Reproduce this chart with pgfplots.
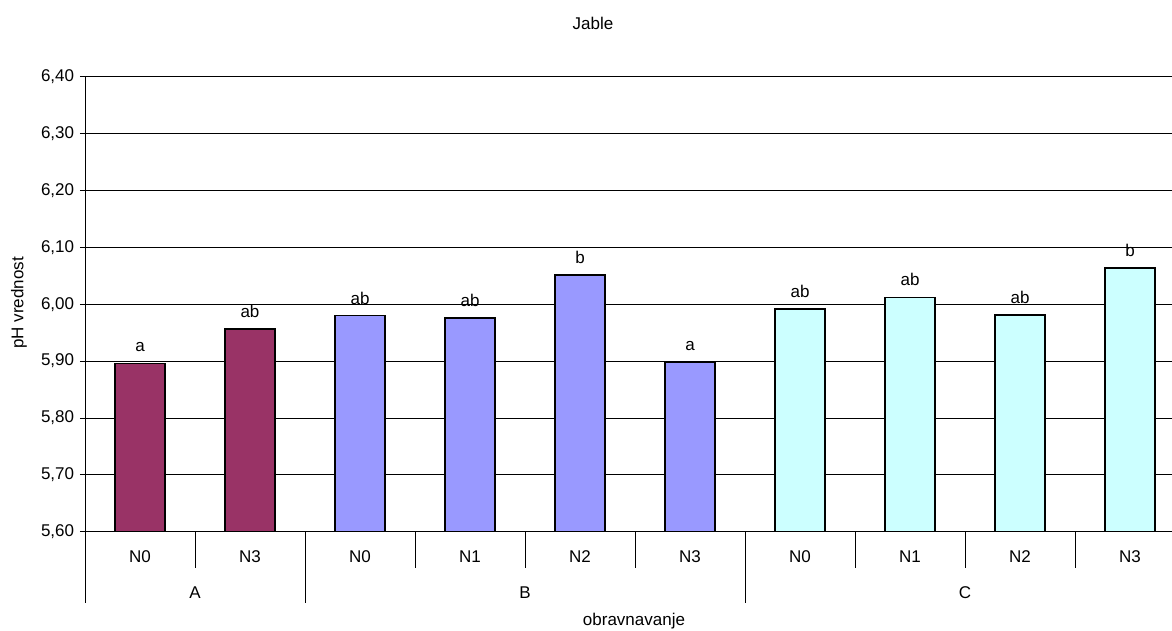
\documentclass[border=0pt]{standalone}
\usepackage{pgfplots}
\pgfplotsset{compat=1.18}
\usepackage{fontspec}
\setmainfont{Liberation Sans}
\definecolor{cA}{HTML}{993366}
\definecolor{cB}{HTML}{9999FF}
\definecolor{cC}{HTML}{CCFFFF}
\pgfplotstableread{
x y l
0 5.896 a
1 5.956 ab
}\tA
\pgfplotstableread{
x y l
2 5.980 ab
3 5.976 ab
4 6.051 b
5 5.898 a
}\tB
\pgfplotstableread{
x y l
6 5.992 ab
7 6.012 ab
8 5.981 ab
9 6.064 b
}\tC
\begin{document}
\fontsize{17}{20}\selectfont
\begin{tikzpicture}
\useasboundingbox (-85pt,531.7pt) rectangle (1087pt,-98.3pt);
\clip (-85pt,531.7pt) rectangle (1087pt,-98.3pt);
\begin{axis}[
  anchor=south west,
  scale only axis, width=1100pt, height=455pt,
  xmin=-0.5, xmax=9.5, ymin=5.6, ymax=6.4,
  ytick={5.6,5.7,5.8,5.9,6.0,6.1,6.2,6.3,6.4},
  ymajorgrids, grid style={black, line width=0.8pt},
  axis x line*=bottom, axis y line*=left,
  axis line style={-, black, line width=0.9pt},
  tick align=outside, major tick length=5pt,
  tick style={black, line width=0.8pt},
  yticklabel style={/pgf/number format/.cd, fixed, fixed zerofill, precision=2, use comma, assume math mode=true},
  xtick={0,...,9},
  xticklabels={N0,N3,N0,N1,N2,N3,N0,N1,N2,N3},
  major x tick style={draw=none},
  xticklabel style={anchor=center, yshift=-20.3pt},
  minor xtick={0.5,2.5,3.5,4.5,6.5,7.5,8.5},
  minor tick length=36pt,
  minor x tick style={draw=black, line width=0.8pt},
  extra x ticks={-0.5,1.5,5.5},
  extra x tick labels={},
  extra x tick style={major tick length=71pt, major x tick style={draw=black, line width=0.8pt}},
  every axis plot/.append style={ybar, bar width=0.4545, bar shift=0pt, draw=black, line width=1.5pt},
  nodes near coords, point meta=explicit symbolic,
  every node near coord/.append style={anchor=base, yshift=11.5pt, black},
]
\addplot[fill=cA] table[x=x, y=y, meta=l] {\tA};
\addplot[fill=cB] table[x=x, y=y, meta=l] {\tB};
\addplot[fill=cC] table[x=x, y=y, meta=l] {\tC};
\end{axis}
\node at (508pt,508.7pt) {Jable};
\node[rotate=90] at (-66pt,228.7pt) {pH vrednost};
\node at (110pt,-61.3pt) {A};
\node at (440pt,-61.3pt) {B};
\node at (880pt,-61.3pt) {C};
\node at (549pt,-89.3pt) {obravnavanje};
\end{tikzpicture}
\end{document}
